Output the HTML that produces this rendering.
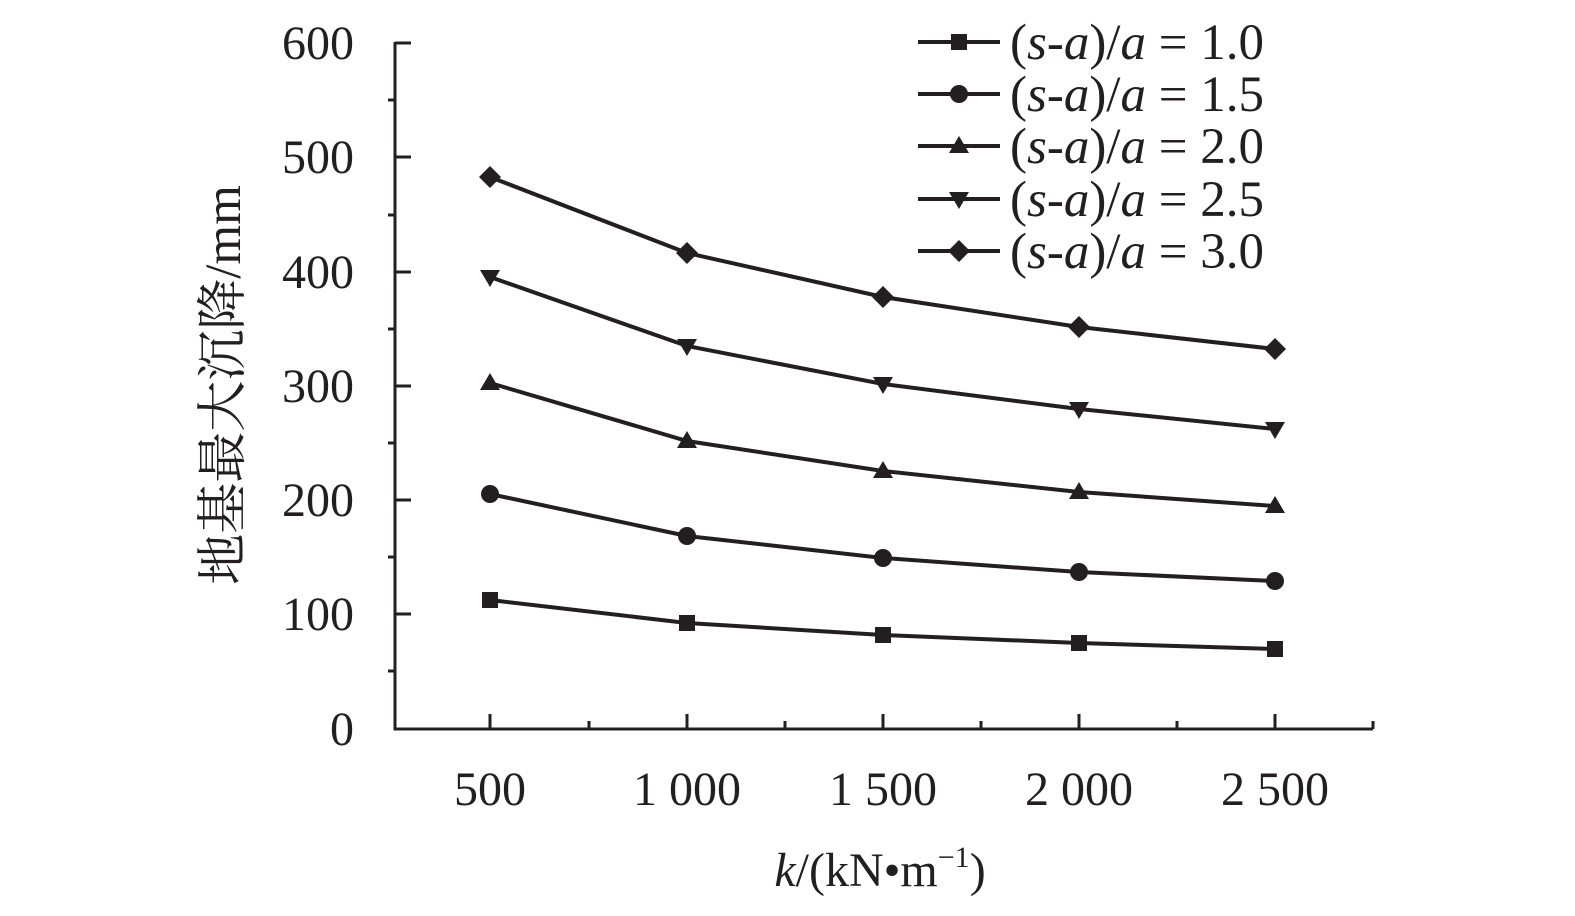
<!DOCTYPE html><html><head><meta charset="utf-8"><style>body{margin:0;background:#fff}</style></head><body>
<svg width="1575" height="911" xmlns="http://www.w3.org/2000/svg" font-family="'Liberation Serif','Noto Serif CJK SC',serif" fill="#231f20">
<g stroke="#231f20" stroke-width="3" fill="none">
<polyline points="395,42 395,729 1373,729"/>
<path d="M395,43h16M395,157h16M395,272h16M395,386h16M395,500h16M395,614h16M388,100h7M388,215h7M388,329h7M388,443h7M388,557h7M388,671h7"/>
<path d="M490,729v-15M687,729v-15M883,729v-15M1079,729v-15M1275,729v-15M589,729v-8M785,729v-8M981,729v-8M1177,729v-8M1373,729v-8"/>
</g>
<g stroke="#231f20" stroke-width="4" fill="none">
<polyline points="490,600 687,623 883,635 1079,643 1275,649"/>
<polyline points="490,494 687,536 883,558 1079,572 1275,581"/>
<polyline points="490,383 687,441 883,471 1079,492 1275,506"/>
<polyline points="490,277 687,346 883,384 1079,409 1275,429"/>
<polyline points="490,177 687,253 883,297 1079,327 1275,349"/>
<path d="M918,42h82M918,94h82M918,146h82M918,199h82M918,251h82"/>
</g>
<g>
<rect x="482" y="592" width="16" height="16"/><rect x="679" y="615" width="16" height="16"/><rect x="875" y="627" width="16" height="16"/><rect x="1071" y="635" width="16" height="16"/><rect x="1267" y="641" width="16" height="16"/><rect x="951" y="34" width="16" height="16"/>
<circle cx="490" cy="494" r="9"/><circle cx="687" cy="536" r="9"/><circle cx="883" cy="558" r="9"/><circle cx="1079" cy="572" r="9"/><circle cx="1275" cy="581" r="9"/><circle cx="959" cy="94" r="9"/>
<path d="M490,373l10,17h-20zM687,431l10,17h-20zM883,461l10,17h-20zM1079,482l10,17h-20zM1275,496l10,17h-20zM959,136l10,17h-20z"/>
<path d="M490,287l10,-17h-20zM687,356l10,-17h-20zM883,394l10,-17h-20zM1079,419l10,-17h-20zM1275,439l10,-17h-20zM959,209l10,-17h-20z"/>
<path d="M490,166l11,11l-11,11l-11,-11zM687,242l11,11l-11,11l-11,-11zM883,286l11,11l-11,11l-11,-11zM1079,316l11,11l-11,11l-11,-11zM1275,338l11,11l-11,11l-11,-11zM959,240l11,11l-11,11l-11,-11z"/>
</g>
<g font-size="48" text-anchor="end">
<text x="354" y="59">600</text><text x="354" y="173">500</text><text x="354" y="288">400</text><text x="354" y="402">300</text><text x="354" y="516">200</text><text x="354" y="630">100</text><text x="354" y="745">0</text>
</g>
<g font-size="48" text-anchor="middle">
<text x="490" y="805">500</text><text x="687" y="805">1 000</text><text x="883" y="805">1 500</text><text x="1079" y="805">2 000</text><text x="1275" y="805">2 500</text>
<text x="880" y="886"><tspan font-style="italic">k</tspan>/(kN•m<tspan font-size="30" dy="-19">−1</tspan><tspan dy="19">)</tspan></text>
<text font-size="51" transform="translate(240,385) rotate(-90)">地基最大沉降/mm</text>
</g>
<g font-size="51">
<text x="1010" y="59">(<tspan font-style="italic">s</tspan>-<tspan font-style="italic">a</tspan>)/<tspan font-style="italic">a</tspan> = 1.0</text>
<text x="1010" y="111">(<tspan font-style="italic">s</tspan>-<tspan font-style="italic">a</tspan>)/<tspan font-style="italic">a</tspan> = 1.5</text>
<text x="1010" y="163">(<tspan font-style="italic">s</tspan>-<tspan font-style="italic">a</tspan>)/<tspan font-style="italic">a</tspan> = 2.0</text>
<text x="1010" y="216">(<tspan font-style="italic">s</tspan>-<tspan font-style="italic">a</tspan>)/<tspan font-style="italic">a</tspan> = 2.5</text>
<text x="1010" y="268">(<tspan font-style="italic">s</tspan>-<tspan font-style="italic">a</tspan>)/<tspan font-style="italic">a</tspan> = 3.0</text>
</g>
</svg>
</body></html>
